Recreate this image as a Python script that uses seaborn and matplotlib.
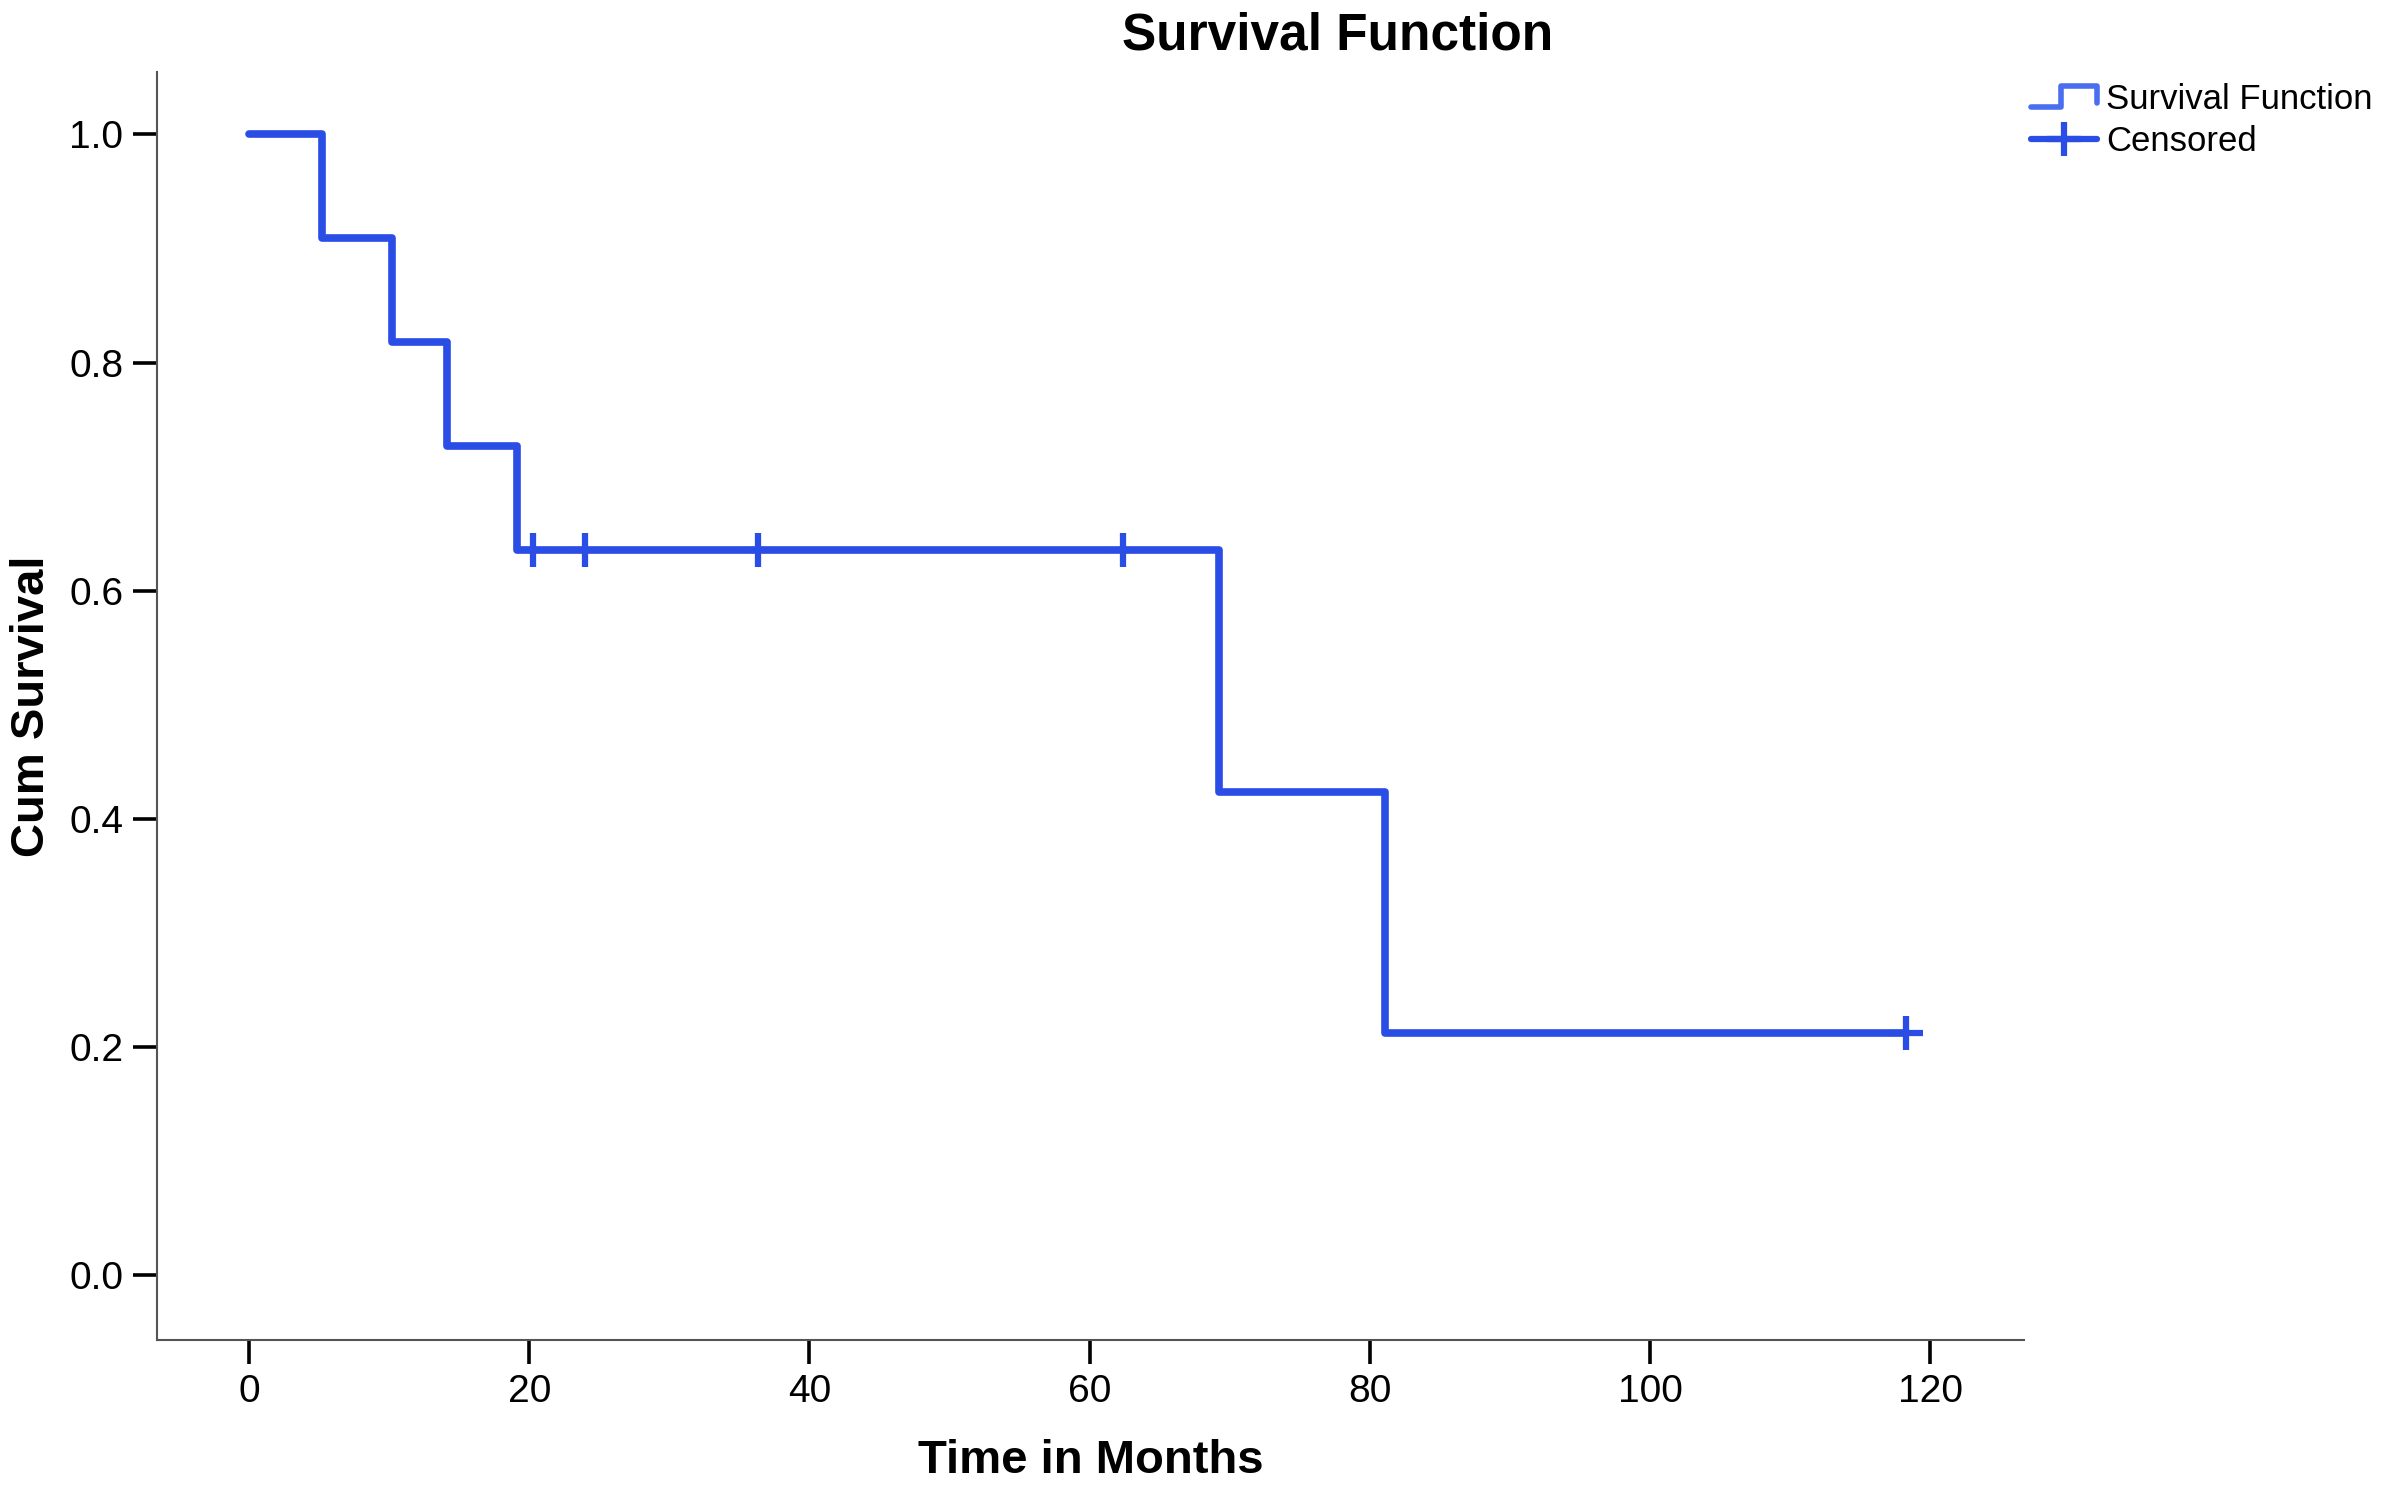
import numpy as np
import pandas as pd
import matplotlib
matplotlib.use("Agg")
import matplotlib.pyplot as plt
from matplotlib.legend_handler import HandlerBase
from matplotlib.lines import Line2D
import seaborn as sns

# Kaplan-Meier curve
step_times = [0, 5.2, 10.2, 14.1, 19.1, 69.2, 81.1, 118.3]
step_surv = [1.0, 0.909, 0.818, 0.727, 0.636, 0.424, 0.212, 0.212]
censor_times = [20.3, 24, 36.3, 62.4, 118.3]
censor_surv = [0.636, 0.636, 0.636, 0.636, 0.212]

x_ticks = [0, 20, 40, 60, 80, 100, 120]
y_ticks = [0.0, 0.2, 0.4, 0.6, 0.8, 1.0]

BLUE = "#2a4de6"


class StepHandler(HandlerBase):
    # little step icon like the SPSS legend
    def create_artists(self, legend, orig_handle, xdescent, ydescent,
                       width, height, fontsize, trans):
        xs = [0, width * 0.45, width * 0.45, width, width]
        ys = [height * 0.1, height * 0.1, height * 0.95, height * 0.95, height * 0.25]
        ln = Line2D(xs, ys, color="#4a6ef0", lw=4, transform=trans)
        return [ln]


sns.set_theme(style="white")
plt.rcParams['font.family'] = ['Liberation Sans', 'DejaVu Sans']

df_steps = pd.DataFrame({"time": step_times, "surv": step_surv})
df_cens = pd.DataFrame({"time": censor_times, "surv": censor_surv})

fig = plt.figure(figsize=(23.84, 14.91), dpi=100)
ax = fig.add_axes([0.0657, 0.101, 0.7833, 0.851])

sns.lineplot(data=df_steps, x="time", y="surv", drawstyle="steps-post",
             estimator=None, color=BLUE, lw=5.5, ax=ax, legend=False)
sns.scatterplot(data=df_cens, x="time", y="surv", marker="+", s=600,
                linewidth=4.5, color=BLUE, ax=ax, legend=False, zorder=3)

ax.set_xlim(-6.6, 126.7)
ax.set_ylim(-0.057, 1.055)
ax.set_xticks(x_ticks)
ax.set_yticks(y_ticks)
ax.set_xticklabels([str(t) for t in x_ticks])
ax.set_yticklabels([f"{t:.1f}" for t in y_ticks])
ax.tick_params(axis="both", direction="out", length=17, width=2.6,
               color="black", labelsize=28, labelcolor="black", pad=7,
               bottom=True, left=True)

sns.despine(ax=ax)
for s in ["left", "bottom"]:
    ax.spines[s].set_color("#555555")
    ax.spines[s].set_linewidth(1.5)

ax.set_xlabel("Time in Months", fontsize=34, fontweight="bold", color="black")
ax.set_ylabel("Cum Survival", fontsize=34, fontweight="bold", color="black")
ax.xaxis.set_label_coords(0.5, -0.078)
ax.yaxis.set_label_coords(-0.055, 0.5)
fig.text(0.561, 0.976, "Survival Function", ha="center", va="center",
         fontsize=37, fontweight="bold", color="black")

h_step = Line2D([], [], color=BLUE)
h_cens = Line2D([], [], color=BLUE, marker="+", markersize=25,
                markeredgewidth=4.5, lw=4.5)
fig.legend([h_step, h_cens], ["Survival Function", "Censored"],
           handler_map={h_step: StepHandler()},
           loc="upper left", bbox_to_anchor=(0.852, 0.944), frameon=False,
           fontsize=25, handlelength=1.9, handletextpad=0.25, labelspacing=0.25,
           borderaxespad=0, borderpad=0, labelcolor="black")

fig.savefig("out.png", dpi=100, facecolor="white")
